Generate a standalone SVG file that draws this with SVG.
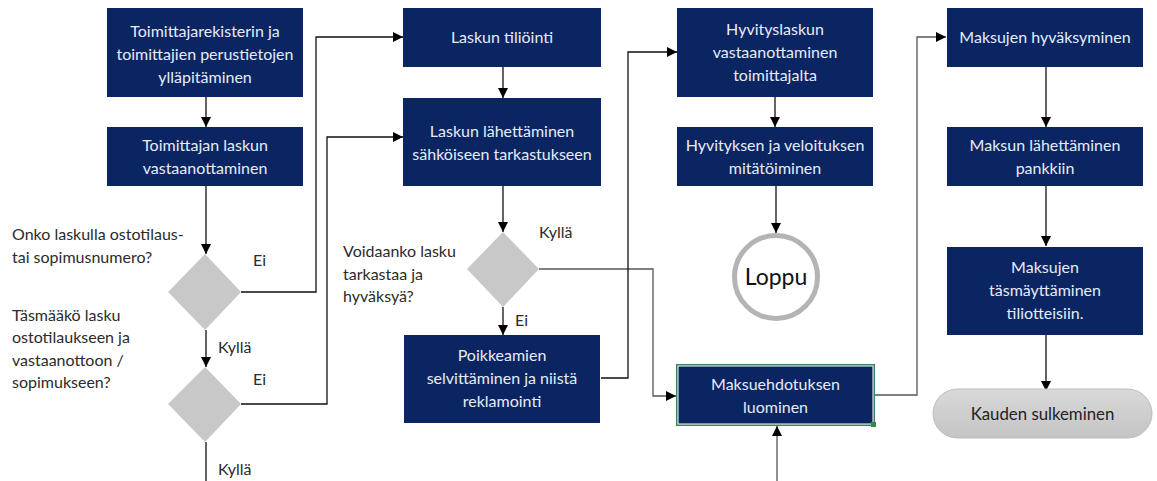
<svg xmlns="http://www.w3.org/2000/svg" width="1157" height="481" viewBox="0 0 1157 481">
<defs>
<marker id="arr" viewBox="0 0 10 10" refX="10" refY="5" markerWidth="10" markerHeight="10" markerUnits="userSpaceOnUse" orient="auto">
<path d="M0,0 L10,5 L0,10 Z" fill="#000"/>
</marker>
<linearGradient id="pill" x1="0" y1="0" x2="0" y2="1">
<stop offset="0" stop-color="#d9d9d9"/>
<stop offset="1" stop-color="#c4c4c4"/>
</linearGradient>
<style>
.box{fill:#0b2563;}
.bt{font-family:Lato,"Liberation Sans",sans-serif;font-size:16px;fill:#e6ecf6;text-anchor:middle;}
.lt{font-family:Lato,"Liberation Sans",sans-serif;font-size:16px;fill:#2b2b2b;}
.dia{fill:#c8c8c8;}
.ln{fill:none;stroke:#111;stroke-width:1.3;}
.lg{fill:none;stroke:#555;stroke-width:1.3;}
.ar{marker-end:url(#arr);}
</style>
</defs>
<rect width="1157" height="481" fill="#fff"/>

<g id="connectors">
<path class="ln ar" d="M206,97 V127"/>
<path class="ln ar" d="M206,186 V254"/>
<path class="ln ar" d="M206,330 V367"/>
<path class="ln" d="M206,442 V481"/>
<path class="ln ar" d="M241,292 H316 V37 H403"/>
<path class="ln ar" d="M241,404 H327 V137 H403"/>
<path class="ln ar" d="M503,67 V98"/>
<path class="ln ar" d="M503,186 V232"/>
<path class="ln ar" d="M503,307 V335"/>
<path class="lg ar" d="M539,269 H653 V396 H676"/>
<path class="ln ar" d="M601,378 H628 V52 H677"/>
<path class="ln ar" d="M775,97 V127"/>
<path class="ln ar" d="M776,186 V233"/>
<path class="lg ar" d="M777,481 V426"/>
<path class="lg ar" d="M875,395 H917 V37 H946"/>
<path class="ln ar" d="M1046,67 V127"/>
<path class="ln ar" d="M1046,186 V246"/>
<path class="ln ar" d="M1046,335 V391"/>
</g>

<g id="labels">
<text class="lt" x="12" y="240">Onko laskulla ostotilaus-</text>
<text class="lt" x="12" y="263">tai sopimusnumero?</text>
<text class="lt" x="12" y="321">Täsmääkö lasku</text>
<text class="lt" x="12" y="343">ostotilaukseen ja</text>
<text class="lt" x="12" y="366">vastaanottoon /</text>
<text class="lt" x="12" y="388">sopimukseen?</text>
<text class="lt" x="343" y="257">Voidaanko lasku</text>
<text class="lt" x="343" y="280">tarkastaa ja</text>
<text class="lt" x="343" y="302">hyväksyä?</text>
<text class="lt" x="253" y="266">Ei</text>
<text class="lt" x="218" y="353">Kyllä</text>
<text class="lt" x="253" y="385">Ei</text>
<text class="lt" x="218" y="475">Kyllä</text>
<text class="lt" x="539" y="238">Kyllä</text>
<text class="lt" x="515" y="326">Ei</text>
</g>

<g id="n1">
<rect class="box" x="107" y="8" width="196" height="89"/>
<text class="bt" x="205" y="37">Toimittajarekisterin ja</text>
<text class="bt" x="205" y="60">toimittajien perustietojen</text>
<text class="bt" x="205" y="83">ylläpitäminen</text>
</g>
<g id="n2">
<rect class="box" x="107" y="127" width="196" height="59"/>
<text class="bt" x="205" y="151">Toimittajan laskun</text>
<text class="bt" x="205" y="174">vastaanottaminen</text>
</g>
<g id="d1"><path class="dia" d="M205,254 L241,292 L205,330 L168,292 Z"/></g>
<g id="d2"><path class="dia" d="M205,367 L241,404 L205,442 L168,404 Z"/></g>

<g id="n3">
<rect class="box" x="403" y="8" width="198" height="59"/>
<text class="bt" x="502" y="43">Laskun tiliöinti</text>
</g>
<g id="n4">
<rect class="box" x="403" y="98" width="198" height="88"/>
<text class="bt" x="502" y="137">Laskun lähettäminen</text>
<text class="bt" x="502" y="160">sähköiseen tarkastukseen</text>
</g>
<g id="d3"><path class="dia" d="M503,232 L539,269 L503,307 L467,269 Z"/></g>
<g id="n5">
<rect class="box" x="404" y="335" width="196" height="88"/>
<text class="bt" x="502" y="361">Poikkeamien</text>
<text class="bt" x="502" y="384">selvittäminen ja niistä</text>
<text class="bt" x="502" y="407">reklamointi</text>
</g>

<g id="n6">
<rect class="box" x="677" y="8" width="196" height="89"/>
<text class="bt" x="775" y="35">Hyvityslaskun</text>
<text class="bt" x="775" y="58">vastaanottaminen</text>
<text class="bt" x="775" y="81">toimittajalta</text>
</g>
<g id="n7">
<rect class="box" x="677" y="127" width="196" height="59"/>
<text class="bt" x="775" y="151">Hyvityksen ja veloituksen</text>
<text class="bt" x="775" y="174">mitätöiminen</text>
</g>
<g id="loppu">
<circle cx="776" cy="277" r="41.5" fill="#fff" stroke="#b4b4b4" stroke-width="5"/>
<text x="776" y="285" font-family="Lato,'Liberation Sans',sans-serif" font-size="23" fill="#111" text-anchor="middle">Loppu</text>
</g>
<g id="n8">
<rect x="676" y="364" width="199" height="62" fill="#3f7d62"/>
<rect x="677.5" y="365.5" width="196" height="59" fill="#fff"/>
<rect class="box" x="678.5" y="366.5" width="194" height="57" fill="#0b2265"/>
<rect x="871" y="422" width="5" height="5" fill="#2f8a4a"/>
<text class="bt" x="775.5" y="390">Maksuehdotuksen</text>
<text class="bt" x="775.5" y="413">luominen</text>
</g>

<g id="n9">
<rect class="box" x="947" y="8" width="196" height="59"/>
<text class="bt" x="1045" y="43">Maksujen hyväksyminen</text>
</g>
<g id="n10">
<rect class="box" x="947" y="127" width="196" height="59"/>
<text class="bt" x="1045" y="151">Maksun lähettäminen</text>
<text class="bt" x="1045" y="174">pankkiin</text>
</g>
<g id="n11">
<rect class="box" x="947" y="247" width="196" height="88"/>
<text class="bt" x="1045" y="273">Maksujen</text>
<text class="bt" x="1045" y="296">täsmäyttäminen</text>
<text class="bt" x="1045" y="319">tiliotteisiin.</text>
</g>
<g id="n12">
<rect x="933" y="389" width="219" height="49" rx="24.5" fill="url(#pill)" stroke="#bdbdbd" stroke-width="1"/>
<text x="1042.5" y="420" font-family="Lato,'Liberation Sans',sans-serif" font-size="16.8" fill="#222" text-anchor="middle">Kauden sulkeminen</text>
</g>
</svg>
